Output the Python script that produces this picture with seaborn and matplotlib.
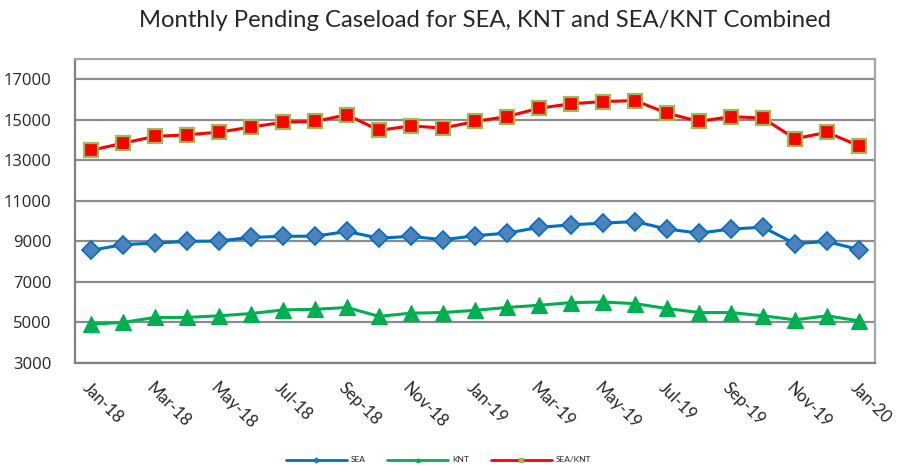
import pandas as pd
import matplotlib
matplotlib.use("Agg")
import matplotlib.pyplot as plt
import matplotlib.transforms as mtransforms
import seaborn as sns
from matplotlib.lines import Line2D

# Dados (Jan-18 .. Jan-20)
months = ['Jan-18', 'Feb-18', 'Mar-18', 'Apr-18', 'May-18', 'Jun-18', 'Jul-18', 'Aug-18',
          'Sep-18', 'Oct-18', 'Nov-18', 'Dec-18', 'Jan-19', 'Feb-19', 'Mar-19', 'Apr-19',
          'May-19', 'Jun-19', 'Jul-19', 'Aug-19', 'Sep-19', 'Oct-19', 'Nov-19', 'Dec-19',
          'Jan-20']
sea = [8560, 8840, 8920, 9000, 9020, 9200, 9250, 9260, 9490, 9160, 9250, 9080, 9280,
       9410, 9690, 9820, 9900, 9980, 9610, 9410, 9610, 9700, 8890, 9000, 8590]
knt = [4920, 5000, 5250, 5250, 5330, 5440, 5620, 5650, 5740, 5300, 5460, 5490, 5600,
       5740, 5850, 5980, 6010, 5930, 5690, 5490, 5490, 5330, 5130, 5330, 5080]
sea_knt = [13490, 13850, 14180, 14260, 14390, 14640, 14880, 14920, 15250, 14480, 14700,
           14590, 14920, 15160, 15570, 15790, 15900, 15950, 15330, 14920, 15160, 15080,
           14070, 14380, 13720]

base = pd.DataFrame({'idx': range(len(months)), 'month': months,
                     'SEA': sea, 'KNT': knt, 'SEA/KNT': sea_knt})

sns.set_style('white')
plt.rcParams['font.family'] = ['Lato', 'DejaVu Sans']

fig = plt.figure(figsize=(8.99, 4.66), dpi=100)
ax = fig.add_axes([0.0834, 0.221, 0.8899, 0.6524])

# Linhas
sns.lineplot(data=base, x='idx', y='SEA', ax=ax, color='#0070C0', linewidth=2.2,
             marker='D', markersize=9.5, markerfacecolor='#4F81BD',
             markeredgecolor='#0070C0', markeredgewidth=1.2, zorder=3)
sns.lineplot(data=base, x='idx', y='KNT', ax=ax, color='#00B050', linewidth=2.2,
             marker='^', markersize=11, markerfacecolor='#00B050',
             markeredgecolor='#00B050', markeredgewidth=0.8, zorder=3)
sns.lineplot(data=base, x='idx', y='SEA/KNT', ax=ax, color='#FF0000', linewidth=2.2,
             marker='s', markersize=9.5, markerfacecolor='#FF0000',
             markeredgecolor='#9BBB59', markeredgewidth=1.6, zorder=3)

# Eixos
ax.set_xlim(-0.5, len(months) - 0.5)
ax.set_ylim(3000, 18000)
ax.set_yticks(range(3000, 18000, 2000))
ax.set_yticklabels([str(v) for v in range(3000, 18000, 2000)], fontsize=12,
                   family=['Open Sans', 'DejaVu Sans'])
ax.set_xticks(range(0, len(months), 2))
ax.set_xticklabels(months[::2], rotation=-45, ha='left', va='top',
                   rotation_mode='anchor', fontsize=12)
shift = mtransforms.ScaledTranslation(5 / 100, -3 / 100, fig.dpi_scale_trans)
for lab in ax.get_xticklabels():
    lab.set_transform(lab.get_transform() + shift)
ax.tick_params(axis='both', length=0)
ax.tick_params(axis='x', pad=12)
ax.tick_params(axis='y', pad=17)
ax.set_xlabel('')
ax.set_ylabel('')
ax.grid(axis='y', color='#8c8c8c', linewidth=1.6, zorder=0)
ax.set_axisbelow(True)
for s in ['left', 'bottom']:
    ax.spines[s].set_color('#808080')
    ax.spines[s].set_linewidth(1.6)
for s in ['top', 'right']:
    ax.spines[s].set_color('#a6a6a6')
    ax.spines[s].set_linewidth(1.6)

fig.text(0.54, 0.955, 'Monthly Pending Caseload for SEA, KNT and SEA/KNT Combined',
         ha='center', va='center', fontsize=17.2)

# Legenda
handles = [
    Line2D([], [], color='#0070C0', linewidth=2, marker='D', markersize=2.5,
           markerfacecolor='#4F81BD', markeredgecolor='#0070C0'),
    Line2D([], [], color='#00B050', linewidth=2, marker='^', markersize=2.5,
           markerfacecolor='#00B050', markeredgecolor='#00B050'),
    Line2D([], [], color='#FF0000', linewidth=2, marker='s', markersize=3,
           markerfacecolor='#9BBB59', markeredgecolor='#9BBB59'),
]
fig.legend(handles, ['SEA', 'KNT', 'SEA/KNT'], loc='center', ncol=3,
           bbox_to_anchor=(0.488, 0.013), frameon=False, fontsize=6,
           handlelength=7.3, handletextpad=0.5, columnspacing=2.6)

fig.savefig('out.png', dpi=100)
